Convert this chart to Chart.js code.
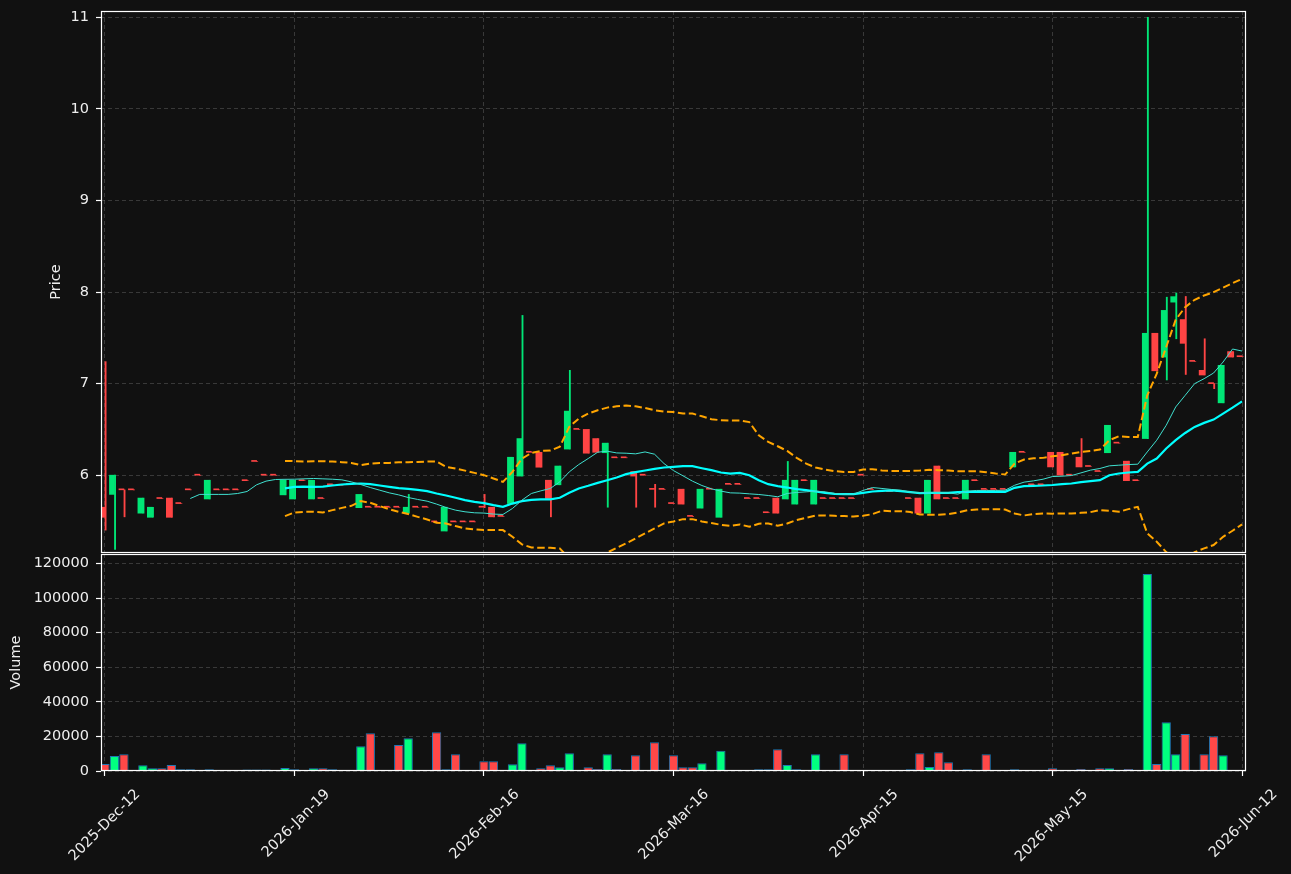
<!DOCTYPE html>
<html>
<head>
<meta charset="utf-8">
<script src="https://cdn.jsdelivr.net/npm/chart.js@4.4.1/dist/chart.umd.min.js"></script>
<style>
  body { margin: 0; background: #111111; }
  #wrap { position: relative; width: 1291px; height: 874px; background: #111111; }
  canvas { position: absolute; left: 0; top: 0; }
</style>
</head>
<body>
<div id="wrap">
  <canvas id="priceChart" width="1291" height="874"></canvas>
  <canvas id="volChart" width="1291" height="874"></canvas>
</div>
<script>
// one candle per trading day, index 0 = 2025-Dec-12
var opens = [
  5.65, 5.79, 5.84, 5.84, 5.585, 5.54, 5.745, 5.75, 5.69, 5.84,
  6.00, 5.74, 5.84, 5.84, 5.84, 5.94, 6.15, 6.00, 6.00, 5.785,
  5.74, 5.94, 5.74, 5.745, 5.895, 5.89, 5.90, 5.645, 5.65, 5.65,
  5.65, 5.65, 5.585, 5.65, 5.65, 5.49, 5.39, 5.49, 5.49, 5.49,
  5.65, 5.65, 5.55, 5.69, 5.99, 6.25, 6.25, 5.945, 5.895, 6.285,
  6.50, 6.50, 6.40, 6.245, 6.19, 6.19, 6.04, 6.00, 5.845, 5.845,
  5.69, 5.847, 5.55, 5.64, 5.847, 5.54, 5.90, 5.90, 5.745, 5.745,
  5.59, 5.75, 5.74, 5.684, 5.94, 5.684, 5.745, 5.745, 5.745, 5.745,
  6.00, 5.845, 5.82, 5.82, 5.82, 5.745, 5.75, 5.585, 6.10, 5.745,
  5.745, 5.74, 5.94, 5.845, 5.845, 5.845, 6.09, 6.25, 5.895, 5.895,
  6.25, 6.25, 6.00, 6.196, 6.095, 6.04, 6.245, 6.35, 6.153, 5.94,
  6.40, 7.55, 7.29, 7.89, 7.70, 7.243, 7.145, 7.00, 6.79, 7.35, 7.294
];
var highs = [
  7.24, 6.00, 5.84, 5.84, 5.75, 5.65, 5.745, 5.75, 5.69, 5.84,
  6.00, 5.945, 5.84, 5.84, 5.84, 5.94, 6.15, 6.00, 6.00, 5.945,
  5.945, 5.94, 5.945, 5.745, 5.895, 5.89, 5.90, 5.79, 5.65, 5.65,
  5.65, 5.65, 5.79, 5.65, 5.65, 5.49, 5.65, 5.49, 5.49, 5.49,
  5.79, 5.65, 5.55, 6.196, 7.745, 6.25, 6.25, 5.945, 6.10, 7.145,
  6.50, 6.50, 6.40, 6.35, 6.19, 6.19, 6.04, 6.00, 5.90, 5.845,
  5.69, 5.847, 5.55, 5.847, 5.847, 5.847, 5.90, 5.90, 5.745, 5.745,
  5.59, 5.75, 6.15, 5.945, 5.94, 5.945, 5.745, 5.745, 5.745, 5.745,
  6.00, 5.845, 5.82, 5.82, 5.82, 5.745, 5.75, 5.945, 6.10, 5.745,
  5.745, 5.945, 5.94, 5.845, 5.845, 5.845, 6.25, 6.25, 5.895, 5.895,
  6.25, 6.25, 6.00, 6.40, 6.095, 6.04, 6.545, 6.35, 6.153, 5.94,
  11.0, 7.55, 7.944, 7.99, 7.952, 7.243, 7.49, 7.00, 7.20, 7.35, 7.294
];
var lows = [
  5.40, 5.19, 5.545, 5.84, 5.585, 5.54, 5.745, 5.54, 5.69, 5.84,
  6.00, 5.74, 5.84, 5.84, 5.84, 5.94, 6.15, 6.00, 6.00, 5.785,
  5.74, 5.94, 5.74, 5.745, 5.895, 5.89, 5.90, 5.645, 5.65, 5.65,
  5.65, 5.65, 5.585, 5.65, 5.65, 5.49, 5.39, 5.49, 5.49, 5.49,
  5.645, 5.545, 5.55, 5.69, 5.99, 6.25, 6.087, 5.545, 5.895, 6.285,
  6.50, 6.24, 6.25, 5.65, 6.19, 6.19, 5.65, 6.00, 5.65, 5.845,
  5.69, 5.684, 5.55, 5.64, 5.847, 5.54, 5.90, 5.90, 5.745, 5.745,
  5.59, 5.585, 5.74, 5.684, 5.94, 5.684, 5.745, 5.745, 5.745, 5.745,
  6.00, 5.845, 5.82, 5.82, 5.82, 5.745, 5.585, 5.585, 5.74, 5.745,
  5.745, 5.74, 5.94, 5.845, 5.845, 5.845, 6.09, 6.25, 5.895, 5.895,
  6.09, 6.00, 6.00, 6.09, 6.095, 6.04, 6.245, 6.35, 5.94, 5.94,
  6.40, 7.14, 7.04, 7.49, 7.10, 7.243, 7.094, 6.945, 6.79, 7.29, 7.294
];
var closes = [
  5.54, 6.00, 5.84, 5.84, 5.75, 5.65, 5.745, 5.54, 5.69, 5.84,
  6.00, 5.945, 5.84, 5.84, 5.84, 5.94, 6.15, 6.00, 6.00, 5.945,
  5.945, 5.94, 5.945, 5.745, 5.895, 5.89, 5.90, 5.79, 5.65, 5.65,
  5.65, 5.65, 5.65, 5.65, 5.65, 5.49, 5.65, 5.49, 5.49, 5.49,
  5.65, 5.545, 5.55, 6.196, 6.40, 6.25, 6.087, 5.745, 6.10, 6.70,
  6.50, 6.24, 6.25, 6.35, 6.19, 6.19, 5.99, 6.00, 5.845, 5.845,
  5.69, 5.684, 5.55, 5.847, 5.847, 5.847, 5.90, 5.90, 5.745, 5.745,
  5.59, 5.585, 5.945, 5.945, 5.94, 5.945, 5.745, 5.745, 5.745, 5.745,
  6.00, 5.845, 5.82, 5.82, 5.82, 5.745, 5.585, 5.945, 5.74, 5.745,
  5.745, 5.945, 5.94, 5.845, 5.845, 5.845, 6.25, 6.25, 5.895, 5.895,
  6.09, 6.00, 6.00, 6.09, 6.095, 6.04, 6.545, 6.35, 5.94, 5.94,
  7.55, 7.14, 7.80, 7.95, 7.44, 7.243, 7.094, 7.00, 7.20, 7.29, 7.294
];
var volumes = [
  4000, 8700, 9700, 0, 3300, 1560, 1560, 3400, 1000, 1000,
  0, 1000, 0, 0, 0, 900, 900, 900, 0, 1700,
  1000, 0, 1560, 1560, 1000, 0, 0, 14300, 21850, 0,
  0, 15070, 18950, 0, 0, 22430, 1000, 9680, 0, 0,
  5620, 5620, 0, 3880, 16060, 0, 1550, 3300, 2130, 10260,
  0, 2130, 1160, 9680, 1160, 0, 9100, 0, 16640, 0,
  9100, 2130, 2130, 4460, 0, 11770, 500, 0, 0, 1000,
  1000, 12580, 3480, 1000, 0, 9680, 0, 400, 9680, 0,
  400, 400, 0, 0, 0, 1000, 10260, 2320, 10840, 5040,
  0, 1000, 0, 9680, 0, 0, 1000, 0, 0, 0,
  1600, 500, 0, 1160, 0, 1550, 1550, 500, 1160, 0,
  114000, 4060, 28220, 9680, 21450, 500, 9680, 20100, 9100, 0, 0
];
// moving averages and bands
var ma10 = [
  null, null, null, null, null, null, null, null, null, 5.745,
  5.79, 5.79, 5.79, 5.79, 5.80, 5.822, 5.895, 5.935, 5.953, 5.955,
  5.956, 5.96, 5.964, 5.96, 5.956, 5.949, 5.927, 5.898, 5.865, 5.836,
  5.807, 5.785, 5.756, 5.735, 5.716, 5.684, 5.647, 5.618, 5.60, 5.589,
  5.586, 5.575, 5.571, 5.636, 5.727, 5.80, 5.829, 5.855, 5.927, 6.036,
  6.116, 6.182, 6.251, 6.262, 6.243, 6.24, 6.233, 6.254, 6.229, 6.127,
  6.05, 5.993, 5.935, 5.887, 5.851, 5.826, 5.807, 5.804, 5.796, 5.789,
  5.778, 5.764, 5.80, 5.811, 5.818, 5.826, 5.818, 5.80, 5.793, 5.793,
  5.833, 5.865, 5.855, 5.844, 5.836, 5.815, 5.807, 5.807, 5.807, 5.807,
  5.793, 5.826, 5.833, 5.833, 5.833, 5.836, 5.89, 5.924, 5.938, 5.956,
  5.985, 5.989, 5.996, 6.025, 6.055, 6.073, 6.102, 6.109, 6.116, 6.12,
  6.254, 6.382, 6.545, 6.745, 6.872, 7.0, 7.054, 7.116, 7.236, 7.378, 7.356
];
var ma20 = [
  null, null, null, null, null, null, null, null, null, null,
  null, null, null, null, null, null, null, null, null, 5.855,
  5.873, 5.876, 5.873, 5.876, 5.887, 5.898, 5.905, 5.909, 5.902, 5.887,
  5.873, 5.858, 5.851, 5.84, 5.826, 5.80, 5.778, 5.753, 5.727, 5.709,
  5.695, 5.673, 5.654, 5.69, 5.716, 5.731, 5.735, 5.735, 5.753, 5.807,
  5.855, 5.884, 5.916, 5.945, 5.975, 6.011, 6.033, 6.051, 6.069, 6.084,
  6.091, 6.098, 6.098, 6.076, 6.055, 6.029, 6.018, 6.025, 6.0, 5.945,
  5.902, 5.88, 5.865, 5.847, 5.836, 5.822, 5.807, 5.796, 5.793, 5.793,
  5.807, 5.822, 5.829, 5.833, 5.826, 5.815, 5.804, 5.807, 5.807, 5.807,
  5.815, 5.818, 5.818, 5.818, 5.818, 5.818, 5.862, 5.88, 5.884, 5.887,
  5.893, 5.902, 5.909, 5.924, 5.935, 5.945, 6.0, 6.018, 6.029, 6.036,
  6.127, 6.182, 6.291, 6.382, 6.461, 6.527, 6.571, 6.607, 6.673, 6.738, 6.807
];
var upperBand = [
  null, null, null, null, null, null, null, null, null, null,
  null, null, null, null, null, null, null, null, null, 6.156,
  6.153, 6.149, 6.153, 6.153, 6.149, 6.142, 6.134, 6.109, 6.127, 6.134,
  6.134, 6.142, 6.142, 6.145, 6.149, 6.149, 6.091, 6.073, 6.05, 6.025,
  6.0, 5.964, 5.927, 6.036, 6.18, 6.243, 6.265, 6.27, 6.31, 6.527,
  6.618, 6.673, 6.709, 6.738, 6.752, 6.76, 6.752, 6.734, 6.709, 6.694,
  6.69, 6.673, 6.673, 6.643, 6.611, 6.60, 6.596, 6.596, 6.58, 6.436,
  6.363, 6.316, 6.265, 6.189, 6.127, 6.084, 6.062, 6.044, 6.036, 6.036,
  6.062, 6.065, 6.051, 6.047, 6.047, 6.047, 6.051, 6.058, 6.055, 6.051,
  6.044, 6.044, 6.044, 6.033, 6.018, 6.007, 6.127, 6.171, 6.185, 6.189,
  6.207, 6.218, 6.236, 6.254, 6.265, 6.28, 6.382, 6.425, 6.418, 6.418,
  6.872, 7.109, 7.40, 7.698, 7.835, 7.916, 7.963, 7.999, 8.047, 8.097, 8.145
];
var lowerBand = [
  null, null, null, null, null, null, null, null, null, null,
  null, null, null, null, null, null, null, null, null, 5.553,
  5.593, 5.60, 5.60, 5.593, 5.618, 5.643, 5.665, 5.717, 5.698, 5.662,
  5.629, 5.60, 5.575, 5.545, 5.516, 5.48, 5.473, 5.444, 5.418, 5.408,
  5.40, 5.40, 5.40, 5.327, 5.244, 5.21, 5.207, 5.207, 5.2, 5.09,
  5.09, 5.095, 5.12, 5.155, 5.205, 5.255, 5.31, 5.364, 5.418, 5.473,
  5.495, 5.52, 5.52, 5.495, 5.477, 5.458, 5.447, 5.462, 5.436, 5.47,
  5.473, 5.447, 5.473, 5.51, 5.535, 5.56, 5.56, 5.556, 5.553, 5.549,
  5.556, 5.575, 5.611, 5.607, 5.607, 5.597, 5.571, 5.567, 5.567, 5.575,
  5.593, 5.618, 5.625, 5.629, 5.629, 5.625, 5.582, 5.56, 5.575, 5.582,
  5.58, 5.582, 5.582, 5.589, 5.596, 5.618, 5.611, 5.60, 5.629, 5.654,
  5.364, 5.273, 5.16, 5.07, 5.09, 5.16, 5.20, 5.237, 5.327, 5.393, 5.462
];
var tickIdx = [0, 20, 40, 60, 80, 100, 120];
var tickLabels = ['2025-Dec-12', '2026-Jan-19', '2026-Feb-16', '2026-Mar-16', '2026-Apr-15', '2026-May-15', '2026-Jun-12'];
var priceTicks = [6, 7, 8, 9, 10, 11];
var volTicks = [0, 20000, 40000, 60000, 80000, 100000, 120000];

var UP = '#00E676', DOWN = '#FF4444';
var VOL_UP = '#00FF80', VOL_DOWN = '#FF4848';
var GRID = 'rgba(255,255,255,0.17)';

Chart.defaults.font.family = 'DejaVu Sans';
Chart.defaults.font.size = 14.5;
Chart.defaults.color = '#eeeeee';

function pts(arr) {
  return arr.map(function(v, i) { return {x: i, y: v}; });
}
var isUp = closes.map(function(c, i) { return c > opens[i]; });
var candleColors = isUp.map(function(u) { return u ? UP : DOWN; });
var volColors = isUp.map(function(u) { return u ? VOL_UP : VOL_DOWN; });

var framePlugin = {
  id: 'frame',
  afterDraw: function(chart) {
    var a = chart.chartArea, ctx = chart.ctx;
    ctx.save();
    ctx.strokeStyle = '#ffffff';
    ctx.lineWidth = 1.2;
    ctx.strokeRect(a.left + 0.5, a.top + 0.5, a.right - a.left - 1, a.bottom - a.top - 1);
    ctx.restore();
  }
};

function xAxis(showLabels) {
  return {
    type: 'linear',
    min: -0.42,
    max: 120.42,
    offset: false,
    afterBuildTicks: function(s) { s.ticks = tickIdx.map(function(v) { return {value: v}; }); },
    afterFit: function(s) { s.height = showLabels ? 103 : 0; },
    grid: { color: GRID, offset: false, drawTicks: showLabels, tickLength: 5, tickColor: '#ffffff', tickWidth: 1.2 },
    border: { display: false, dash: [4, 3] },
    ticks: {
      display: showLabels,
      autoSkip: false,
      minRotation: 45,
      maxRotation: 45,
      labelOffset: 33,
      padding: 10,
      color: '#eeeeee',
      callback: function(v) {
        var k = tickIdx.indexOf(v);
        return k >= 0 ? tickLabels[k] : '';
      }
    }
  };
}

var priceCtx = document.getElementById('priceChart');
var priceChart = new Chart(priceCtx, {
  type: 'bar',
  data: {
    datasets: [
      { type: 'line', label: 'Upper', data: pts(upperBand), borderColor: '#FFA500', borderWidth: 2,
        borderDash: [7.5, 3.5], pointRadius: 0, fill: false, order: 0 },
      { type: 'line', label: 'Lower', data: pts(lowerBand), borderColor: '#FFA500', borderWidth: 2,
        borderDash: [7.5, 3.5], pointRadius: 0, fill: false, order: 0 },
      { type: 'line', label: 'MA10', data: pts(ma10), borderColor: '#40E0D0', borderWidth: 1,
        pointRadius: 0, fill: false, order: 0 },
      { type: 'line', label: 'MA20', data: pts(ma20), borderColor: '#00FFFF', borderWidth: 2.2,
        pointRadius: 0, fill: false, order: 1 },
      { label: 'Body', data: opens.map(function(o, i) { return {x: i, y: [o, closes[i]]}; }),
        backgroundColor: candleColors, barThickness: 5, minBarLength: 1, order: 2 },
      { label: 'Wick', data: lows.map(function(l, i) { return {x: i, y: [l, highs[i]]}; }),
        backgroundColor: candleColors, barThickness: 1.2, order: 3 }
    ]
  },
  options: {
    responsive: false,
    animation: false,
    devicePixelRatio: 1,
    layout: { padding: { left: 0, top: 11, right: 45, bottom: 321 } },
    plugins: { legend: { display: false }, tooltip: { enabled: false } },
    scales: {
      x: xAxis(false),
      y: {
        min: 5.15,
        max: 11.07,
        afterBuildTicks: function(s) { s.ticks = priceTicks.map(function(v) { return {value: v}; }); },
        afterFit: function(s) { s.width = 101; s.paddingTop = 0; s.paddingBottom = 0; },
        grid: { color: GRID, tickLength: 5, tickColor: '#ffffff', tickWidth: 1.2 },
        border: { display: false, dash: [4, 3] },
        ticks: { padding: 7, color: '#eeeeee', callback: function(v) { return String(v); } },
        title: { display: true, text: 'Price', color: '#eeeeee', padding: { top: 48, bottom: 0 } }
      }
    }
  },
  plugins: [framePlugin]
});

var volCtx = document.getElementById('volChart');
var volChart = new Chart(volCtx, {
  type: 'bar',
  data: {
    datasets: [
      { label: 'Volume', data: pts(volumes), backgroundColor: volColors, borderColor: '#1F77B4',
        borderWidth: 1, barPercentage: 1, categoryPercentage: 0.98 }
    ]
  },
  options: {
    responsive: false,
    animation: false,
    devicePixelRatio: 1,
    layout: { padding: { left: 0, top: 554, right: 45, bottom: 0 } },
    plugins: { legend: { display: false }, tooltip: { enabled: false } },
    scales: {
      x: xAxis(true),
      y: {
        min: 0,
        max: 125500,
        afterBuildTicks: function(s) { s.ticks = volTicks.map(function(v) { return {value: v}; }); },
        afterFit: function(s) { s.width = 101; },
        grid: { color: GRID, tickLength: 5, tickColor: '#ffffff', tickWidth: 1.2 },
        border: { display: false, dash: [4, 3] },
        ticks: { padding: 7, color: '#eeeeee', callback: function(v) { return String(v); } },
        title: { display: true, text: 'Volume', color: '#eeeeee', padding: { top: 8, bottom: 0 } }
      }
    }
  },
  plugins: [framePlugin]
});
</script>
</body>
</html>
